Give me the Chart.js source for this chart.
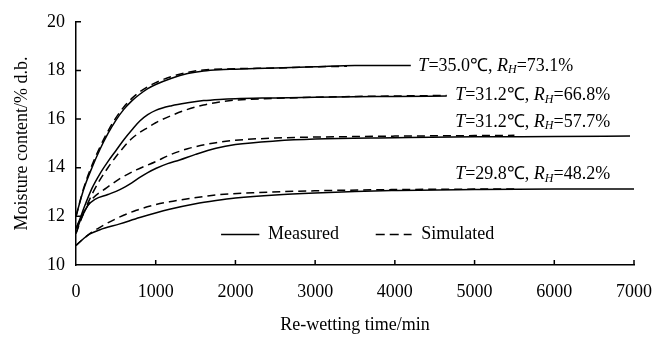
<!DOCTYPE html>
<html>
<head>
<meta charset="utf-8">
<script src="https://cdn.jsdelivr.net/npm/chart.js@4.4.0/dist/chart.umd.min.js"></script>
<style>
  body { margin: 0; background: #fff; }
  #wrap { width: 668px; height: 338px; }
</style>
</head>
<body>
<div id="wrap"><canvas id="graphCanvas" width="668" height="338"></canvas></div>
<script>
// ---- data (time in min, moisture in % d.b.) ----
var m1Time = [0, 50, 100, 200, 300, 400, 500, 600, 700, 800, 900, 1000, 1200, 1400, 1600, 1800, 2000, 2500, 3000, 3500, 4200];
var m1Val  = [12.0, 12.6, 13.15, 14.0, 14.75, 15.4, 15.95, 16.4, 16.75, 17.02, 17.25, 17.42, 17.68, 17.87, 17.98, 18.03, 18.05, 18.1, 18.15, 18.2, 18.2];
var s1Time = [0, 100, 200, 300, 400, 500, 600, 700, 800, 900, 1000, 1200, 1400, 1600, 2000, 2500, 3000, 3400];
var s1Val  = [12.0, 13.2, 14.1, 14.85, 15.5, 16.05, 16.5, 16.85, 17.12, 17.33, 17.5, 17.75, 17.92, 18.02, 18.07, 18.1, 18.15, 18.17];

var m2Time = [0, 50, 100, 200, 300, 400, 500, 600, 700, 800, 900, 1000, 1200, 1400, 1600, 1800, 2000, 2500, 3000, 3500, 4000, 4650];
var m2Val  = [11.5, 11.9, 12.35, 13.15, 13.75, 14.25, 14.7, 15.15, 15.55, 15.92, 16.18, 16.36, 16.55, 16.67, 16.76, 16.81, 16.84, 16.87, 16.9, 16.92, 16.93, 16.95];
var s2Time = [0, 100, 200, 300, 400, 500, 600, 700, 800, 900, 1000, 1200, 1400, 1600, 1800, 2000, 2500, 3000, 3500, 4000, 4650];
var s2Val  = [11.5, 12.2, 12.9, 13.5, 14.0, 14.45, 14.85, 15.2, 15.45, 15.65, 15.85, 16.15, 16.4, 16.58, 16.7, 16.78, 16.85, 16.9, 16.93, 16.95, 16.97];

var m3Time = [0, 50, 100, 150, 237, 400, 550, 700, 800, 900, 1007, 1150, 1300, 1500, 1756, 2000, 2500, 3000, 4000, 5000, 6000, 6950];
var m3Val  = [11.3, 11.8, 12.15, 12.45, 12.7, 12.9, 13.1, 13.38, 13.6, 13.8, 13.98, 14.17, 14.32, 14.55, 14.8, 14.95, 15.1, 15.18, 15.23, 15.27, 15.28, 15.3];
var s3Time = [0, 100, 200, 383, 550, 757, 1000, 1173, 1400, 1756, 2000, 2500, 3000, 3500, 4000, 5000, 5500];
var s3Val  = [11.3, 12.15, 12.7, 13.17, 13.55, 13.91, 14.25, 14.52, 14.78, 15.03, 15.13, 15.22, 15.26, 15.28, 15.3, 15.32, 15.33];

var m4Time = [0, 100, 175, 300, 550, 800, 1173, 1500, 1756, 2000, 2500, 3000, 3960, 5000, 6000, 7000];
var m4Val  = [10.8, 11.1, 11.28, 11.45, 11.69, 11.95, 12.29, 12.52, 12.65, 12.75, 12.88, 12.96, 13.06, 13.1, 13.12, 13.12];
var s4Time = [0, 100, 200, 300, 500, 757, 1000, 1173, 1460, 1756, 2300, 3000, 3960, 5000, 5500];
var s4Val  = [10.8, 11.1, 11.35, 11.55, 11.9, 12.25, 12.48, 12.6, 12.75, 12.88, 12.98, 13.05, 13.1, 13.12, 13.13];

var conditions = [
  { t: "35.0", rh: "73.1" },
  { t: "31.2", rh: "66.8" },
  { t: "31.2", rh: "57.7" },
  { t: "29.8", rh: "48.2" }
];
var legendNames = ["Measured", "Simulated"];

var xTicks = [0, 1000, 2000, 3000, 4000, 5000, 6000, 7000];
var yTicks = [10, 12, 14, 16, 18, 20];

// where the condition labels sit (data units, left edge / middle of text)
var labelAt = [[4295, 18.18], [4757, 16.96], [4757, 15.87], [4757, 13.72]];

var SERIF = "'Liberation Serif', 'Times New Roman', serif";

function pts(xs, ys) {
  var out = [];
  for (var i = 0; i < xs.length; i++) out.push({ x: xs[i], y: ys[i] });
  return out;
}

function lineSet(xs, ys, dashed) {
  return {
    data: pts(xs, ys),
    borderColor: "#000",
    borderWidth: 1.5,
    borderDash: dashed ? [8, 5] : [],
    pointRadius: 0,
    fill: false,
    cubicInterpolationMode: "monotone"
  };
}

// inward ticks, curve labels and the in-plot legend
var extras = {
  id: "extras",
  afterDraw: function(chart) {
    var c = chart.ctx, xs = chart.scales.x, ys = chart.scales.y, a = chart.chartArea;
    c.save();
    c.strokeStyle = "#000";
    c.lineWidth = 1.5;
    c.beginPath();
    xTicks.forEach(function(v) {
      if (v === 0) return;
      var px = xs.getPixelForValue(v);
      c.moveTo(px, a.bottom); c.lineTo(px, a.bottom - 5);
    });
    yTicks.forEach(function(v) {
      if (v === 10) return;
      var py = ys.getPixelForValue(v);
      c.moveTo(a.left, py); c.lineTo(a.left + 5, py);
    });
    c.stroke();

    // condition labels
    c.fillStyle = "#000";
    c.textBaseline = "middle";
    conditions.forEach(function(cd, i) {
      var x = xs.getPixelForValue(labelAt[i][0]);
      var y = ys.getPixelForValue(labelAt[i][1]);
      var parts = [
        ["italic 18px " + SERIF, "T", 0],
        ["18px " + SERIF, "=" + cd.t + "\u2103, ", 0],
        ["italic 18px " + SERIF, "R", 0],
        ["italic 12px " + SERIF, "H", 4],
        ["18px " + SERIF, "=" + cd.rh + "%", 0]
      ];
      parts.forEach(function(p) {
        c.font = p[0];
        c.fillText(p[1], x, y + p[2]);
        x += c.measureText(p[1]).width;
      });
    });

    // legend inside the plot
    var ly = ys.getPixelForValue(11.25);
    c.font = "18px " + SERIF;
    c.beginPath();
    c.moveTo(xs.getPixelForValue(1820), ly); c.lineTo(xs.getPixelForValue(2300), ly);
    c.stroke();
    c.fillText(legendNames[0], xs.getPixelForValue(2410), ly);
    c.setLineDash([9, 5]);
    c.beginPath();
    c.moveTo(xs.getPixelForValue(3760), ly); c.lineTo(xs.getPixelForValue(4210), ly);
    c.stroke();
    c.setLineDash([]);
    c.fillText(legendNames[1], xs.getPixelForValue(4330), ly);
    c.restore();
  }
};

var ctx = document.getElementById("graphCanvas");

var data = {
  datasets: [
    lineSet(m1Time, m1Val, false), lineSet(s1Time, s1Val, true),
    lineSet(m2Time, m2Val, false), lineSet(s2Time, s2Val, true),
    lineSet(m3Time, m3Val, false), lineSet(s3Time, s3Val, true),
    lineSet(m4Time, m4Val, false), lineSet(s4Time, s4Val, true)
  ]
};

var plainNum = function(v) { return String(v); };

var options = {
  responsive: false,
  animation: false,
  layout: { padding: { top: 18, right: 31, left: 0, bottom: 0 } },
  plugins: { legend: { display: false }, tooltip: { enabled: false } },
  scales: {
    x: {
      type: "linear",
      min: 0, max: 7000,
      afterBuildTicks: function(s) { s.ticks = xTicks.map(function(v) { return { value: v }; }); },
      afterFit: function(s) { s.height = 73; },
      grid: { display: false, drawTicks: false },
      border: { display: true, color: "#000", width: 1.5 },
      ticks: { color: "#000", padding: 16, maxRotation: 0, callback: plainNum, font: { family: SERIF, size: 18 } },
      title: { display: true, text: "Re-wetting time/min", color: "#000", padding: { top: 0, bottom: 2 }, font: { family: SERIF, size: 18 } }
    },
    y: {
      type: "linear",
      min: 10, max: 20,
      afterBuildTicks: function(s) { s.ticks = yTicks.map(function(v) { return { value: v }; }); },
      afterFit: function(s) { s.width = 76; },
      grid: { display: false, drawTicks: false },
      border: { display: true, color: "#000", width: 1.5 },
      ticks: { color: "#000", padding: 11, callback: plainNum, font: { family: SERIF, size: 18 } },
      title: { display: true, text: "Moisture content/% d.b.", color: "#000", padding: { top: 11, bottom: 0 }, font: { family: SERIF, size: 18 } }
    }
  }
};

var chart = new Chart(ctx, {
  type: "line",
  data: data,
  options: options,
  plugins: [extras]
});
</script>
</body>
</html>
